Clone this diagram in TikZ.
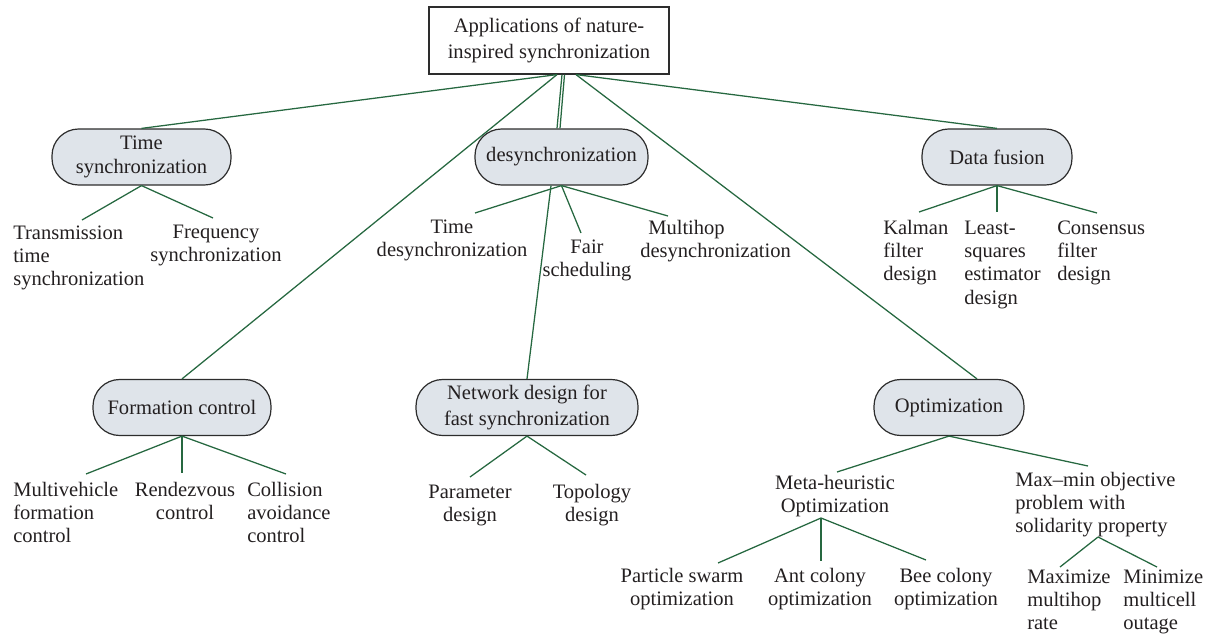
\documentclass[tikz,border=0pt]{standalone}
\usepackage{fontspec}
\setmainfont{Liberation Serif}
\usetikzlibrary{calc}
\definecolor{lnk}{RGB}{38,104,64}
\definecolor{nfill}{RGB}{223,228,234}
\definecolor{nline}{RGB}{45,45,45}
\definecolor{txt}{RGB}{35,31,32}
\begin{document}
\begin{tikzpicture}[x=0.75pt,y=-0.75pt,
  every node/.style={text=txt},
  topbox/.style={draw=nline,line width=0.9pt,fill=white,minimum width=240*0.75pt,minimum height=67*0.75pt,align=center,inner sep=0pt,font=\fontsize{15.4}{19.5}\selectfont},
  pill/.style={draw=nline,line width=0.9pt,fill=nfill,rounded corners=20pt,minimum height=56*0.75pt,align=center,inner sep=0pt,font=\fontsize{15.4}{18}\selectfont},
  leafl/.style={inner sep=0pt,align=left,anchor=north west,font=\fontsize{15.4}{17.4}\selectfont},
  leafc/.style={inner sep=0pt,align=center,anchor=north,font=\fontsize{15.4}{17.4}\selectfont},
  conn/.style={draw=lnk,line width=0.95pt}]
\useasboundingbox (0,0) rectangle (1214,639);

% main nodes
\node[topbox] (top) at (549,40.5) {Applications of nature-\\inspired synchronization};
\node[pill,minimum width=179*0.75pt] (ts) at (141.5,157) {Time\\synchronization};
\node[pill,minimum width=173*0.75pt] (ds) at (561.5,157) {desynchronization};
\node[pill,minimum width=150*0.75pt] (df) at (997,157) {Data fusion};
\node[pill,minimum width=178*0.75pt] (fc) at (182,407.5) {Formation control};
\node[pill,minimum width=222*0.75pt,font=\fontsize{15.4}{20}\selectfont] (nd) at (527,407.5) {Network design for\\fast synchronization};
\node[pill,minimum width=150*0.75pt] (op) at (949,407.5) {Optimization};

% leaves
\node[leafl] (tts) at (13,223) {\strut Transmission\\time\\synchronization};
\node[leafc] (fs) at (216,222) {\strut Frequency\\synchronization};
\node[leafc] (tds) at (452,217) {\strut Time\\desynchronization};
\node[leafc] (fsch) at (587,237) {\strut Fair\\scheduling};
\node[leafl] (mds) at (640,218) {\strut\hspace*{6pt}Multihop\\desynchronization};
\node[leafl] (kf) at (883,218) {\strut Kalman\\filter\\design};
\node[leafl] (ls) at (964,218) {\strut Least-\\squares\\estimator\\design};
\node[leafl] (cf) at (1057,218) {\strut Consensus\\filter\\design};
\node[leafl] (mv) at (13,480) {\strut Multivehicle\\formation\\control};
\node[leafc] (rc) at (185,480) {\strut Rendezvous\\control};
\node[leafl] (ca) at (247,480) {\strut Collision\\avoidance\\control};
\node[leafc] (pd) at (470,482) {\strut Parameter\\design};
\node[leafc] (tpd) at (592,482) {\strut Topology\\design};
\node[leafc] (mh) at (835,473) {\strut Meta-heuristic\\Optimization};
\node[leafl] (mm) at (1015,470) {\strut Max--min objective\\problem with\\solidarity property};
\node[leafc] (ps) at (682,566) {\strut Particle swarm\\optimization};
\node[leafc] (ac) at (820,566) {\strut Ant colony\\optimization};
\node[leafc] (bc) at (946,566) {\strut Bee colony\\optimization};
\node[leafl] (mx) at (1027,567) {\strut Maximize\\multihop\\rate};
\node[leafl] (mn) at (1123,567) {\strut Minimize\\multicell\\outage};

% connector end points
\coordinate (ets) at (82,220);
\coordinate (efs) at (213,218);
\coordinate (etd) at (475,213);
\coordinate (efa) at (581,233);
\coordinate (emd) at (668,216);
\coordinate (ekf) at (919,212);
\coordinate (els) at (997,212);
\coordinate (ecf) at (1097,213);
\coordinate (emv) at (86,474);
\coordinate (erc) at (182,473);
\coordinate (eca) at (286,474);
\coordinate (epd) at (470,477);
\coordinate (etp) at (586,475);
\coordinate (emh) at (837,472);
\coordinate (emm) at (1088,466);
\coordinate (mhb) at (821,518);
\coordinate (eps) at (718,563);
\coordinate (eac) at (821,561);
\coordinate (ebc) at (926,560);
\coordinate (mmb) at (1098,537);
\coordinate (emx) at (1060,567);
\coordinate (emn) at (1157,567);

% connectors from top
\draw[conn] ($(top.south)+(8,0)$) -- (ts.north);
\draw[conn] ($(top.south)+(8,0)$) -- (fc.north);
\draw[conn] ($(top.south)+(13,0)$) -- ($(ds.north)+(-4.5,0)$);
\draw[conn] ($(top.south)+(15.5,0)$) -- ($(ds.north)+(-1.5,0)$);
\draw[conn] ($(top.south)+(27,0)$) -- ($(op.north)+(28,0)$);
\draw[conn] ($(top.south)+(27,0)$) -- (df.north);

% children
\draw[conn] (ts.south) -- (ets);
\draw[conn] (ts.south) -- (efs);
\draw[conn] (ds.south) -- (etd);
\draw[conn] (ds.south) -- (efa);
\draw[conn] (ds.south) -- (emd);
\draw[conn] ($(ds.south)+(-10.5,0)$) -- (nd.north);
\draw[conn] (df.south) -- (ekf);
\draw[conn] (df.south) -- (els);
\draw[conn] (df.south) -- (ecf);
\draw[conn] (fc.south) -- (emv);
\draw[conn] (fc.south) -- (erc);
\draw[conn] (fc.south) -- (eca);
\draw[conn] (nd.south) -- (epd);
\draw[conn] (nd.south) -- (etp);
\draw[conn] (op.south) -- (emh);
\draw[conn] (op.south) -- (emm);
\draw[conn] (mhb) -- (eps);
\draw[conn] (mhb) -- (eac);
\draw[conn] (mhb) -- (ebc);
\draw[conn] (mmb) -- (emx);
\draw[conn] (mmb) -- (emn);
\end{tikzpicture}
\end{document}
